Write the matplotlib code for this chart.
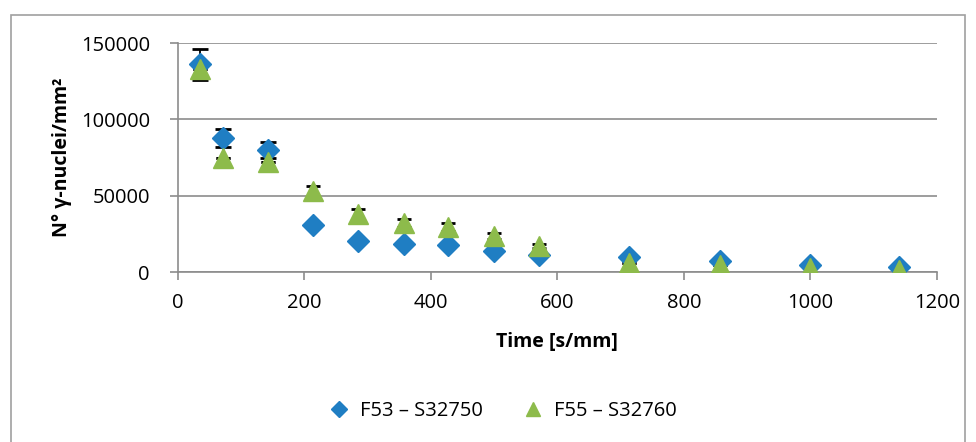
import matplotlib.pyplot as plt
from matplotlib.patches import Rectangle

# data
time_f53 = [36, 72, 143, 214, 285, 357, 428, 500, 571, 714, 857, 1000, 1140]
nuclei_f53 = [136000, 88000, 80000, 31000, 20500, 18500, 17500, 13500, 11000, 10000, 7000, 4500, 3000]
err_f53 = [10000, 6000, 5000, 0, 0, 0, 0, 0, 0, 0, 0, 0, 0]

time_f55 = [36, 72, 143, 214, 285, 357, 428, 500, 571, 714, 857, 1000, 1140]
nuclei_f55 = [133000, 75000, 72000, 53000, 38000, 32000, 29500, 23500, 17000, 6000, 4500, 2500, 1500]
err_f55 = [0, 0, 0, 3500, 3000, 2500, 2500, 2000, 1500, 0, 0, 0, 0]

x_ticks = [0, 200, 400, 600, 800, 1000, 1200]
y_ticks = [0, 50000, 100000, 150000]

blue = '#1F7EC3'
green = '#8DBB4B'
grey = '#8C8C8C'

plt.rcParams['font.family'] = ['Open Sans', 'DejaVu Sans']

fig = plt.figure(figsize=(9.76, 4.42), dpi=100)
ax = fig.add_axes([0.182, 0.3846, 0.778, 0.518])

# outer chart border
fig.patches.append(Rectangle((0.011, -0.02), 0.978, 0.985, transform=fig.transFigure,
                             fill=False, edgecolor='#A0A0A0', linewidth=1.2))

ax.errorbar(time_f53, nuclei_f53, yerr=err_f53, fmt='none', ecolor='black',
            elinewidth=1.3, capsize=6, capthick=2, zorder=2)
ax.errorbar(time_f55, nuclei_f55, yerr=err_f55, fmt='none', ecolor='black',
            elinewidth=1.3, capsize=5, capthick=2, zorder=2)
ax.plot(time_f53, nuclei_f53, linestyle='none', marker='D', markersize=11,
        color=blue, label='F53 – S32750', zorder=3)
ax.plot(time_f55, nuclei_f55, linestyle='none', marker='^', markersize=14,
        color=green, label='F55 – S32760', zorder=4)

ax.set_xlim(0, 1200)
ax.set_ylim(0, 150000)
ax.set_xticks(x_ticks)
ax.set_yticks(y_ticks)
ax.tick_params(axis='both', labelsize=14.5, color=grey, length=6, width=1.2, direction='out')
ax.tick_params(axis='x', pad=9)
ax.tick_params(axis='y', pad=14)

ax.grid(axis='y', color=grey, linewidth=1.2)
ax.set_axisbelow(True)
for side in ['top', 'right']:
    ax.spines[side].set_visible(False)
for side in ['left', 'bottom']:
    ax.spines[side].set_color(grey)
    ax.spines[side].set_linewidth(1.2)

ax.set_xlabel('Time [s/mm]', fontsize=14, fontweight='bold', labelpad=14)
ax.set_ylabel('N° γ-nuclei/mm²', fontsize=14, fontweight='bold', labelpad=6)

fig.legend(loc='center', bbox_to_anchor=(0.51, 0.07), ncol=2, frameon=False,
           fontsize=14.5, handletextpad=0.05, columnspacing=1.5, markerscale=0.7)

fig.savefig('out.png', dpi=100)
